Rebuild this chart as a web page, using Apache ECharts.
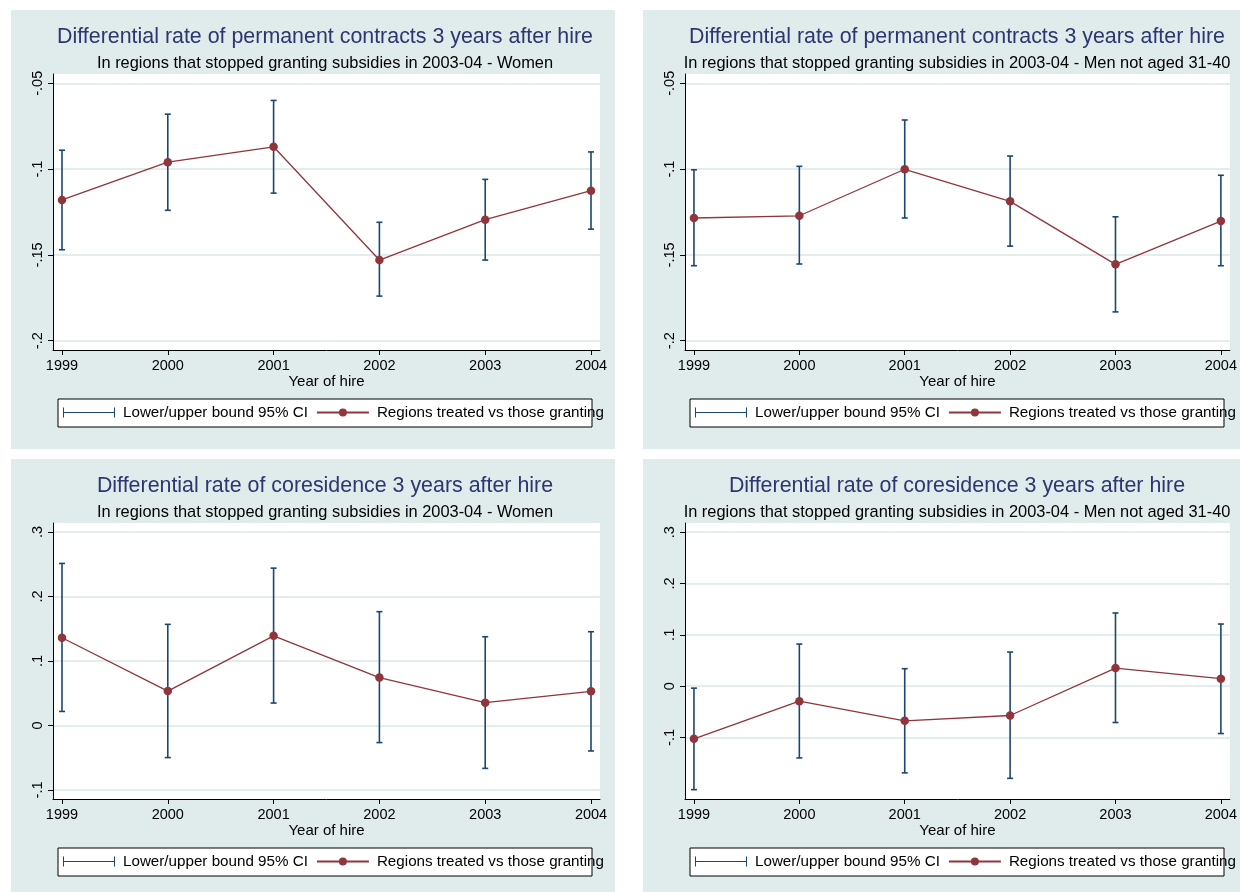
<!DOCTYPE html>
<html>
<head>
<meta charset="utf-8">
<script src="https://cdn.jsdelivr.net/npm/echarts@6/dist/echarts.min.js"></script>
<style>
  html, body { margin: 0; padding: 0; background: #fff; }
  #main { width: 1240px; height: 892px; }
</style>
</head>
<body>
<div id="main"></div>
<script>
// x categories (year of hire)
const years = [1999, 2000, 2001, 2002, 2003, 2004]

// permanent contracts - women
const permWomenEst = [-0.118, -0.096, -0.087, -0.153, -0.1295, -0.1126]
const permWomenLo = [-0.147, -0.124, -0.114, -0.174, -0.153, -0.135]
const permWomenHi = [-0.089, -0.068, -0.060, -0.131, -0.106, -0.090]

// permanent contracts - men not aged 31-40
const permMenEst = [-0.1285, -0.1272, -0.1001, -0.1188, -0.1555, -0.1303]
const permMenLo = [-0.1563, -0.1553, -0.1285, -0.1449, -0.1832, -0.1563]
const permMenHi = [-0.1004, -0.0984, -0.0714, -0.0924, -0.1278, -0.1036]

// coresidence - women
const coresWomenEst = [0.136, 0.0534, 0.139, 0.0743, 0.0353, 0.053]
const coresWomenLo = [0.0218, -0.0498, 0.0348, -0.0265, -0.0665, -0.0395]
const coresWomenHi = [0.2513, 0.1568, 0.244, 0.1765, 0.1376, 0.1454]

// coresidence - men not aged 31-40
const coresMenEst = [-0.1027, -0.0293, -0.0676, -0.0572, 0.0352, 0.0145]
const coresMenLo = [-0.2018, -0.1399, -0.1691, -0.1797, -0.0709, -0.0924]
const coresMenHi = [-0.0039, 0.082, 0.034, 0.0664, 0.1426, 0.1211]

// y tick labels
const permTicks = [-0.2, -0.15, -0.1, -0.05]
const coresTicks = [-0.1, 0, 0.1, 0.2, 0.3]

const titlePerm = 'Differential rate of permanent contracts 3 years after hire'
const titleCores = 'Differential rate of coresidence 3 years after hire'
const subWomen = 'In regions that stopped granting subsidies in 2003-04 - Women'
const subMen = 'In regions that stopped granting subsidies in 2003-04 - Men not aged 31-40'
const ciName = 'Lower/upper bound 95% CI'
const estName = 'Regions treated vs those granting'

const NAVY = '#1a476f'
const MAROON = '#90353b'
const BG = '#e0ebeb'
const FONT = "'Liberation Sans', Arial, sans-serif"

const panels = [
  { ox: 0, oy: 0, title: titlePerm, sub: subWomen, est: permWomenEst, lo: permWomenLo, hi: permWomenHi, ticks: permTicks, min: -0.2054, max: -0.0446 },
  { ox: 632, oy: 0, title: titlePerm, sub: subMen, est: permMenEst, lo: permMenLo, hi: permMenHi, ticks: permTicks, min: -0.2054, max: -0.0446 },
  { ox: 0, oy: 449, title: titleCores, sub: subWomen, est: coresWomenEst, lo: coresWomenLo, hi: coresWomenHi, ticks: coresTicks, min: -0.114, max: 0.314 },
  { ox: 632, oy: 449, title: titleCores, sub: subMen, est: coresMenEst, lo: coresMenLo, hi: coresMenHi, ticks: coresTicks, min: -0.22, max: 0.318 }
]

// stata style number: -.05, .3, 0
function fmtY(v) {
  if (Math.abs(v) < 1e-9) return '0'
  return String(+v.toFixed(3)).replace('0.', '.')
}

// vertical CI bar with small caps
function renderCI(params, api) {
  const x = api.value(0)
  const lo = api.coord([x, api.value(1)])
  const hi = api.coord([x, api.value(2)])
  const w = 3
  const style = { stroke: NAVY, lineWidth: 1.6 }
  return {
    type: 'group',
    children: [
      { type: 'line', shape: { x1: lo[0], y1: lo[1], x2: hi[0], y2: hi[1] }, style },
      { type: 'line', shape: { x1: lo[0] - w, y1: lo[1], x2: lo[0] + w, y2: lo[1] }, style },
      { type: 'line', shape: { x1: hi[0] - w, y1: hi[1], x2: hi[0] + w, y2: hi[1] }, style }
    ]
  }
}

const chart = echarts.init(document.getElementById('main'))

const option = {
  animation: false,
  textStyle: { fontFamily: FONT },
  graphic: [],
  title: [],
  legend: [],
  grid: [],
  xAxis: [],
  yAxis: [],
  series: []
}

panels.forEach((p, i) => {
  const h = p.oy === 0 ? 439 : 443
  // panel background
  option.graphic.push({
    type: 'rect', z: -10, silent: true,
    shape: { x: p.ox + 11, y: p.oy + 10, width: 604, height: h },
    style: { fill: BG }
  })
  // legend box
  option.graphic.push({
    type: 'rect', z: -5, silent: true,
    shape: { x: p.ox + 58, y: p.oy + 399, width: 534, height: 28 },
    style: { fill: '#fff', stroke: '#000', lineWidth: 1 }
  })

  option.title.push({
    text: p.title,
    subtext: p.sub,
    left: p.ox + 325,
    top: p.oy + 26.5,
    textAlign: 'center',
    itemGap: 8,
    padding: 0,
    textStyle: { fontFamily: FONT, fontSize: 21.4, fontWeight: 'normal', color: '#2c3670' },
    subtextStyle: { fontFamily: FONT, fontSize: 16.4, color: '#000' }
  })

  option.legend.push({
    left: p.ox + 63,
    top: p.oy + 405,
    padding: 0,
    itemGap: 8,
    itemWidth: 52,
    itemHeight: 10,
    selectedMode: false,
    textStyle: { fontFamily: FONT, fontSize: 15.2, color: '#000', padding: [0, 0, 0, 3] },
    data: [
      { name: ciName, icon: 'path://M0,0H1V10H0Z M0,4.4H52V5.6H0Z M51,0H52V10H51Z' },
      { name: estName }
    ]
  })

  option.grid.push({
    left: p.ox + 53,
    top: p.oy + 74,
    width: 547,
    height: 276,
    show: true,
    backgroundColor: '#fff',
    borderWidth: 0
  })

  option.xAxis.push({
    type: 'value',
    gridIndex: i,
    min: 1998.915,
    max: 2004.085,
    name: 'Year of hire',
    nameLocation: 'middle',
    nameGap: 23,
    nameTextStyle: { fontFamily: FONT, fontSize: 15, color: '#000' },
    axisLine: { show: true, onZero: false, lineStyle: { color: '#000', width: 1 } },
    axisTick: { show: true, length: 5, customValues: years, lineStyle: { color: '#000' } },
    axisLabel: { customValues: years, margin: 8, fontSize: 14.5, color: '#000', fontFamily: FONT, formatter: (v) => String(v) },
    splitLine: { show: false }
  })

  option.yAxis.push({
    type: 'value',
    gridIndex: i,
    min: p.min,
    max: p.max,
    axisLine: { show: true, lineStyle: { color: '#000', width: 1 } },
    axisTick: { show: true, length: 5, customValues: p.ticks, lineStyle: { color: '#000' } },
    axisLabel: { customValues: p.ticks, rotate: 90, margin: 8, fontSize: 14.5, color: '#000', fontFamily: FONT, formatter: fmtY },
    splitLine: { show: true, lineStyle: { color: '#dae7e7', width: 1.5 } }
  })

  option.series.push({
    name: ciName,
    type: 'custom',
    xAxisIndex: i,
    yAxisIndex: i,
    itemStyle: { color: NAVY },
    encode: { x: 0, y: [1, 2] },
    renderItem: renderCI,
    data: years.map((y, k) => [y, p.lo[k], p.hi[k]])
  })

  option.series.push({
    name: estName,
    type: 'line',
    xAxisIndex: i,
    yAxisIndex: i,
    symbol: 'circle',
    symbolSize: 8.5,
    itemStyle: { color: MAROON },
    lineStyle: { color: MAROON, width: 1.3 },
    data: years.map((y, k) => [y, p.est[k]])
  })
})

chart.setOption(option)
</script>
</body>
</html>
